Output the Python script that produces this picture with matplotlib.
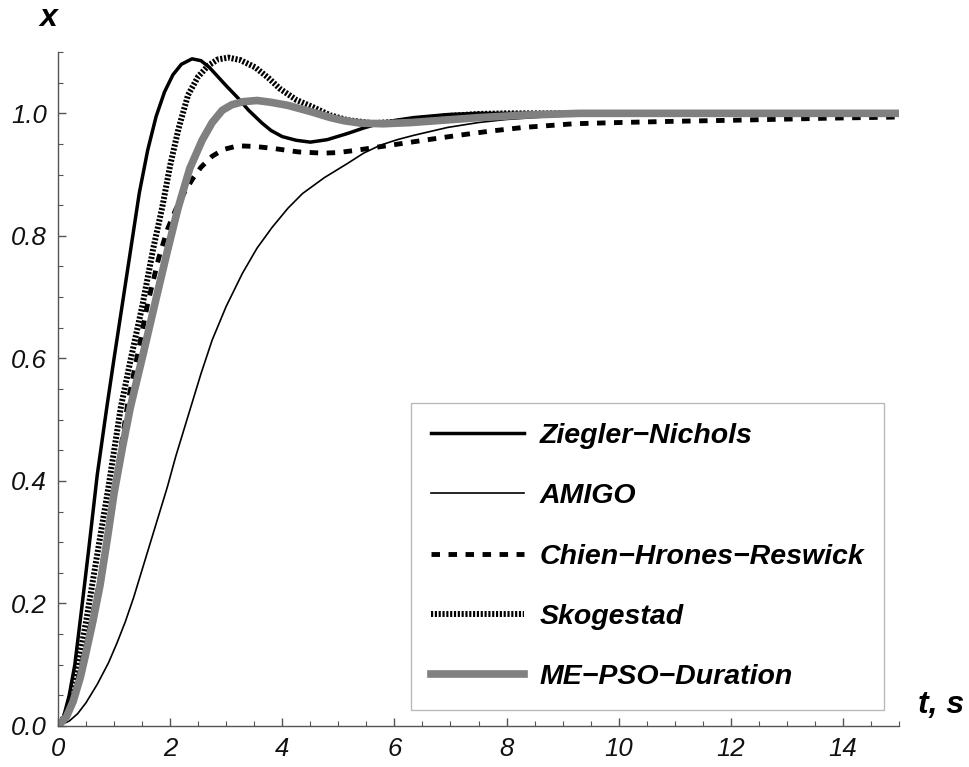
import matplotlib
matplotlib.use("Agg")
import matplotlib.pyplot as plt
from matplotlib.ticker import MultipleLocator, FormatStrFormatter

plt.rcParams['font.family'] = ['Liberation Sans', 'DejaVu Sans']

# step responses (t in s, x)
zn_t = [0, 0.1, 0.2, 0.3, 0.42, 0.55, 0.7, 0.87, 1.0, 1.15, 1.3, 1.45, 1.6, 1.75, 1.9, 2.05,
        2.2, 2.39, 2.55, 2.7, 2.85, 3.0, 3.2, 3.4, 3.64, 3.8, 4.0, 4.25, 4.5, 4.8, 5.16,
        5.45, 5.75, 6.05, 6.34, 6.95, 7.5, 15.0]
zn_x = [0, 0.015, 0.05, 0.1, 0.19, 0.29, 0.41, 0.52, 0.6, 0.69, 0.78, 0.87, 0.94, 0.995, 1.035, 1.063,
        1.08, 1.089, 1.086, 1.075, 1.06, 1.045, 1.026, 1.005, 0.984, 0.972, 0.962, 0.956, 0.953, 0.957, 0.967,
        0.976, 0.984, 0.989, 0.993, 0.998, 1.0, 1.0]

amigo_t = [0, 0.2, 0.35, 0.5, 0.7, 0.9, 1.05, 1.2, 1.35, 1.5, 1.65, 1.8, 1.95, 2.1, 2.25, 2.4,
           2.55, 2.75, 3.0, 3.29, 3.55, 3.82, 4.1, 4.36, 4.75, 5.16, 5.45, 5.75, 6.05, 6.34,
           6.95, 7.5, 8.0, 9.0, 10.0, 15.0]
amigo_x = [0, 0.008, 0.02, 0.038, 0.068, 0.103, 0.135, 0.17, 0.21, 0.255, 0.3, 0.345, 0.39, 0.44, 0.485, 0.53,
           0.575, 0.63, 0.685, 0.739, 0.78, 0.814, 0.845, 0.869, 0.895, 0.918, 0.935, 0.948, 0.957, 0.964,
           0.977, 0.985, 0.99, 0.996, 0.999, 1.0]

chr_t = [0, 0.15, 0.27, 0.5, 0.75, 1.0, 1.25, 1.45, 1.6, 1.8, 1.95, 2.1, 2.25, 2.4, 2.55, 2.75,
         2.95, 3.21, 3.5, 3.82, 4.29, 4.73, 5.0, 5.34, 5.93, 6.52, 7.13, 7.71, 8.3, 9.2,
         10.0, 11.0, 12.2, 13.7, 15.0]
chr_x = [0, 0.015, 0.045, 0.13, 0.24, 0.38, 0.53, 0.62, 0.69, 0.765, 0.81, 0.843, 0.87, 0.893, 0.912, 0.93,
         0.941, 0.947, 0.946, 0.943, 0.937, 0.935, 0.936, 0.94, 0.948, 0.956, 0.964, 0.971, 0.977, 0.983,
         0.985, 0.987, 0.989, 0.992, 0.994]

sko_t = [0, 0.15, 0.3, 0.5, 0.7, 0.9, 1.12, 1.3, 1.5, 1.7, 1.86, 2.0, 2.15, 2.32, 2.5, 2.68,
         2.85, 3.04, 3.25, 3.52, 3.75, 3.96, 4.25, 4.55, 4.85, 5.16, 5.6, 6.0, 6.5, 7.0,
         7.5, 8.0, 15.0]
sko_x = [0, 0.02, 0.07, 0.17, 0.28, 0.39, 0.52, 0.6, 0.684, 0.78, 0.847, 0.915, 0.975, 1.03, 1.06, 1.078,
         1.088, 1.091, 1.087, 1.075, 1.058, 1.04, 1.022, 1.01, 0.997, 0.989, 0.984, 0.986, 0.991, 0.996,
         0.999, 1.0, 1.0]

pso_t = [0, 0.15, 0.27, 0.4, 0.5, 0.62, 0.75, 0.87, 1.0, 1.15, 1.29, 1.5, 1.73, 1.95, 2.14, 2.35,
         2.57, 2.75, 2.93, 3.1, 3.3, 3.55, 3.8, 4.1, 4.5, 4.86, 5.1, 5.4, 5.8, 6.3,
         6.9, 7.5, 8.3, 9.3, 15.0]
pso_x = [0, 0.015, 0.04, 0.08, 0.12, 0.17, 0.23, 0.3, 0.38, 0.455, 0.52, 0.6, 0.69, 0.775, 0.845, 0.91,
         0.956, 0.985, 1.005, 1.014, 1.019, 1.021, 1.018, 1.013, 1.003, 0.993, 0.988, 0.984, 0.983, 0.985,
         0.989, 0.993, 0.997, 1.0, 1.0]

labels = ['Ziegler\u2212Nichols', 'AMIGO', 'Chien\u2212Hrones\u2212Reswick',
          'Skogestad', 'ME\u2212PSO\u2212Duration']

fig = plt.figure(figsize=(9.7, 7.67), dpi=100)
ax = fig.add_axes([0.0598, 0.0535, 0.867, 0.8786])

ax.plot(zn_t, zn_x, color='black', lw=2.5, label=labels[0])
ax.plot(amigo_t, amigo_x, color='black', lw=1.2, label=labels[1])
ax.plot(chr_t, chr_x, color='black', lw=3.5, dashes=(1.75, 1.75), label=labels[2])
ax.plot(sko_t, sko_x, color='black', lw=4.3, dashes=(0.36, 0.28), label=labels[3])
ax.plot(pso_t, pso_x, color='#808080', lw=5.5, label=labels[4])

ax.set_xlim(0, 15)
ax.set_ylim(0, 1.1)
ax.spines['top'].set_visible(False)
ax.spines['right'].set_visible(False)
for s in ('left', 'bottom'):
    ax.spines[s].set_color('#555555')
    ax.spines[s].set_linewidth(1.0)

ax.xaxis.set_major_locator(MultipleLocator(2))
ax.xaxis.set_minor_locator(MultipleLocator(0.5))
ax.yaxis.set_major_locator(MultipleLocator(0.2))
ax.yaxis.set_minor_locator(MultipleLocator(0.05))
ax.yaxis.set_major_formatter(FormatStrFormatter('%.1f'))
ax.tick_params(which='both', direction='in', color='#555555')
ax.tick_params(which='major', length=6, width=1, labelsize=18.5, pad=8)
ax.tick_params(which='minor', length=3.5, width=0.8)
for lab in ax.get_xticklabels() + ax.get_yticklabels():
    lab.set_fontstyle('italic')
    lab.set_color('#111111')

leg = ax.legend(loc='lower left', bbox_to_anchor=(0.42, 0.024), borderaxespad=0,
                prop={'size': 20.5, 'weight': 'bold', 'style': 'italic'},
                handlelength=3.25, handletextpad=0.55, labelspacing=1.2, borderpad=0.7,
                fancybox=False, framealpha=1)
leg.get_frame().set_edgecolor('#bbbbbb')
leg.get_frame().set_linewidth(1.0)

fig.text(48 / 970, 1 - 18 / 767, 'x', ha='center', va='center',
         fontsize=23, fontweight='bold', fontstyle='italic')
fig.text(941 / 970, 1 - 705 / 767, 't, s', ha='center', va='center',
         fontsize=23, fontweight='bold', fontstyle='italic')

fig.savefig('out.png', dpi=100)
